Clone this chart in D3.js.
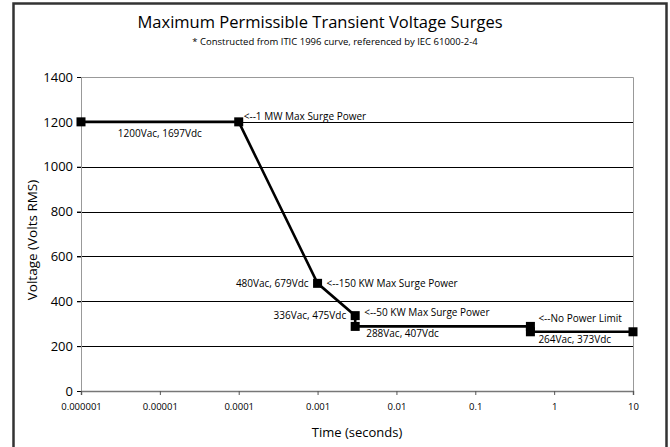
<!DOCTYPE html>
<html>
<head>
<meta charset="utf-8">
<script src="https://cdn.jsdelivr.net/npm/d3@7"></script>
<style>
  body { margin: 0; background: #fff; }
  text { font-family: "Open Sans", "Noto Sans", sans-serif; fill: #000; }
</style>
</head>
<body>
<svg id="chart"></svg>
<script>
// surge curve points (time in seconds, volts RMS)
var times = [0.000001, 0.0001, 0.001, 0.003, 0.003, 0.5, 0.5, 10];
var volts = [1200, 1200, 480, 336, 288, 288, 264, 264];

var xTicks = [0.000001, 0.00001, 0.0001, 0.001, 0.01, 0.1, 1, 10];
var xTickLabels = ["0.000001", "0.00001", "0.0001", "0.001", "0.01", "0.1", "1", "10"];
var yTicks = [0, 200, 400, 600, 800, 1000, 1200, 1400];

// annotation text, keyed by point index
var noteIndex = [1, 2, 2, 3, 3, 4, 5, 6];
var noteText = [
    "<--1 MW Max Surge Power",
    "<--150 KW Max Surge Power",
    "480Vac, 679Vdc",
    "<--50 KW Max Surge Power",
    "336Vac, 475Vdc",
    "288Vac, 407Vdc",
    "<--No Power Limit",
    "264Vac, 373Vdc"
];

// set the dimensions and margins of the graph
var margin = {top: 77, right: 37, bottom: 56, left: 81},
    W = 670, H = 447,
    width = W - margin.left - margin.right,
    height = H - margin.top - margin.bottom;

var root = d3.select("#chart")
    .attr("width", W)
    .attr("height", H);

// outer frame
root.append("rect")
    .attr("x", 13.5)
    .attr("y", 3.5)
    .attr("width", 653)
    .attr("height", 460)
    .attr("fill", "none")
    .attr("stroke", "#333")
    .attr("stroke-width", 2.5);

// titles
root.append("text")
    .attr("x", 320)
    .attr("y", 28)
    .attr("text-anchor", "middle")
    .style("font-size", "16.5px")
    .text("Maximum Permissible Transient Voltage Surges");

root.append("text")
    .attr("x", 335)
    .attr("y", 45)
    .attr("text-anchor", "middle")
    .style("font-size", "9.5px")
    .text("* Constructed from ITIC 1996 curve, referenced by IEC 61000-2-4");

var svg = root.append("g")
    .attr("transform", "translate(" + margin.left + "," + margin.top + ")");

// scales
var x = d3.scaleLog()
    .domain([0.000001, 10])
    .range([0, width]);

var y = d3.scaleLinear()
    .domain([0, 1400])
    .range([height, 0]);

// gridlines
svg.append("g")
    .selectAll("line")
    .data(yTicks.filter(d => d > 0 && d < 1400))
    .enter().append("line")
    .attr("x1", -4)
    .attr("x2", width)
    .attr("y1", d => Math.round(y(d)) + 0.5)
    .attr("y2", d => Math.round(y(d)) + 0.5)
    .attr("stroke", "#000")
    .attr("stroke-width", 1);

// plot border (top & right)
svg.append("path")
    .attr("d", "M0," + 0.5 + "H" + (width + 0.5) + "V" + height)
    .attr("fill", "none")
    .attr("stroke", "#999")
    .attr("stroke-width", 1);

// y axis
var yAxis = svg.append("g")
    .call(d3.axisLeft(y).tickValues(yTicks).tickSize(4).tickPadding(4).tickFormat(d3.format("d")));
yAxis.select(".domain").attr("stroke", "#999");
yAxis.selectAll(".tick line").attr("stroke", "#000");
yAxis.selectAll("text")
    .style("font-size", "13px")
    .style("font-family", "'Open Sans', sans-serif");

// x axis
var xAxis = svg.append("g")
    .attr("transform", "translate(0," + height + ")")
    .call(d3.axisBottom(x).tickValues(xTicks).tickSize(4).tickPadding(8)
        .tickFormat((d, i) => xTickLabels[i]));
xAxis.select(".domain").attr("stroke", "#777").attr("stroke-width", 1.5);
xAxis.selectAll(".tick line").attr("stroke", "#555");
xAxis.selectAll("text")
    .style("font-size", "9.5px")
    .style("font-family", "'Open Sans', sans-serif");

// axis titles
svg.append("text")
    .attr("x", width / 2)
    .attr("y", height + 46)
    .attr("text-anchor", "middle")
    .style("font-size", "13px")
    .text("Time (seconds)");

svg.append("text")
    .attr("transform", "rotate(-90)")
    .attr("x", -height / 2 - 6)
    .attr("y", -44)
    .attr("text-anchor", "middle")
    .style("font-size", "13.5px")
    .text("Voltage (Volts RMS)");

// the curve
var pts = times.map((t, i) => [x(t), y(volts[i])]);

svg.append("path")
    .attr("d", d3.line()(pts))
    .attr("fill", "none")
    .attr("stroke", "#000")
    .attr("stroke-width", 2.6);

svg.selectAll("rect.mark")
    .data(pts)
    .enter().append("rect")
    .attr("class", "mark")
    .attr("x", d => d[0] - 4.5)
    .attr("y", d => d[1] - 4.5)
    .attr("width", 9)
    .attr("height", 9)
    .attr("fill", "#000");

// label for the first flat segment sits under its middle
svg.append("text")
    .attr("x", (pts[0][0] + pts[1][0]) / 2)
    .attr("y", pts[0][1] + 15)
    .attr("text-anchor", "middle")
    .style("font-size", "10px")
    .text("1200Vac, 1697Vdc");

// offsets for the point annotations: [dx, dy, anchor]
var noteOffset = [
    [5, -2, "start"],
    [9, 3.5, "start"],
    [-9, 3.5, "end"],
    [9, 0, "start"],
    [-9, 3.5, "end"],
    [11, 11, "start"],
    [8, -4, "start"],
    [8, 11, "start"]
];

svg.selectAll("text.note")
    .data(noteText)
    .enter().append("text")
    .attr("class", "note")
    .attr("x", (d, i) => pts[noteIndex[i]][0] + noteOffset[i][0])
    .attr("y", (d, i) => pts[noteIndex[i]][1] + noteOffset[i][1])
    .attr("text-anchor", (d, i) => noteOffset[i][2])
    .style("font-size", "10px")
    .text(d => d);
</script>
</body>
</html>
